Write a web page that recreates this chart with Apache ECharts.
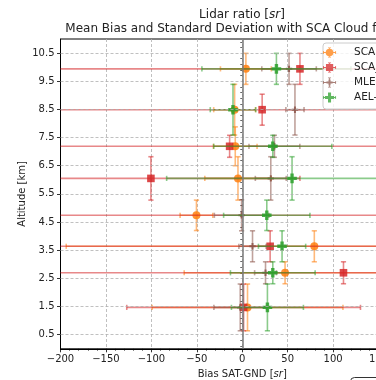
<!DOCTYPE html>
<html>
<head>
<meta charset="utf-8">
<script src="https://cdn.jsdelivr.net/npm/echarts@6/dist/echarts.min.js"></script>
<style>
  html, body { margin: 0; padding: 0; background: #ffffff; }
  #chart { width: 376px; height: 380px; }
</style>
</head>
<body>
<div id="chart"></div>
<script>
// Altitude bins [km] shared by all retrievals
const altitudeKm = [1.47, 2.70, 3.64, 4.74, 6.05, 7.19, 8.49, 9.94];

const seriesNames = ['SCA', 'SCA_MB', 'MLE', 'AEL-PRO'];

// Mean bias SAT-GND [sr], its standard deviation, and altitude spread [km]
const scaBias     = [5.8, 47.1, 79.3, -50.4, -4.7, -7.7, -8.4, 4.0];
const scaStd      = [105, 111, 273, 18, 36.5, 24, 23, 28];
const scaAltErr   = [0.83, 0.39, 0.55, 0.54, 0.77, 0.69, 0.9, 0.55];

const scaMbBias   = [1.5, 111.4, 30.7, 165, -100.5, -13.9, 21.9, 63.5];
const scaMbStd    = [128.6, 330, 250, 380, 164, 230, 245, 290];
const scaMbAltErr = [0.83, 0.39, 0.55, 0.55, 0.77, 0.39, 0.55, 0.55];

const mleBias     = [-2.2, 25.6, 11.3, -0.7, 31.4, 35.4, 58, 51.5];
const mleStd      = [29, 12, 15, 30, 17, 28, 10, 30];
const mleAltErr   = [0.83, 0.39, 0.55, 0.55, 0.77, 0.39, 0.9, 0.55];

const aelBias     = [27.7, 33.6, 43.8, 27, 54.8, 33.6, -10.2, 37.6];
const aelStd      = [39.6, 46.6, 26, 47.5, 138, 65, 25, 82];
const aelAltErr   = [0.83, 0.39, 0.55, 0.54, 0.77, 0.39, 0.9, 0.55];

// Axis ticks
const yMajorTicks = [0.5, 1.5, 2.5, 3.5, 4.5, 5.5, 6.5, 7.5, 8.5, 9.5, 10.5];

const colors = ['#ff7f0e', '#d62728', '#8c564b', '#2ca02c'];
const markerKinds = ['circle', 'square', 'smallPlus', 'plus'];

const yMinorTicks = [];
for (let k = 0; k < 55; k++) {
  const v = +(0.1 + 0.2 * k).toFixed(2);
  if (v > 11) break;
  if (!yMajorTicks.some(m => Math.abs(m - v) < 1e-6)) yMinorTicks.push(v);
}

function rows(bias, std, altErr) {
  return bias.map((b, i) => [b, altitudeKm[i], std[i], altErr[i]]);
}

const CAP = 2.6;

function markerElement(kind, cx, cy, color) {
  const style = { fill: color, opacity: 0.85 };
  if (kind === 'circle') {
    return { type: 'circle', shape: { cx: cx, cy: cy, r: 4 }, style: style };
  }
  if (kind === 'square') {
    return { type: 'rect', shape: { x: cx - 3.8, y: cy - 3.8, width: 7.6, height: 7.6 }, style: style };
  }
  const h = kind === 'plus' ? 4.8 : 3.2;   // half extent
  const t = kind === 'plus' ? 1.7 : 1.0;   // half arm thickness
  const pts = [
    [cx - t, cy - h], [cx + t, cy - h], [cx + t, cy - t], [cx + h, cy - t],
    [cx + h, cy + t], [cx + t, cy + t], [cx + t, cy + h], [cx - t, cy + h],
    [cx - t, cy + t], [cx - h, cy + t], [cx - h, cy - t], [cx - t, cy - t]
  ];
  return { type: 'polygon', shape: { points: pts }, style: style };
}

function makeRenderer(kind, color) {
  return function (params, api) {
    const cs = params.coordSys;
    const left = cs.x, right = cs.x + cs.width;
    const bias = api.value(0), alt = api.value(1), sx = api.value(2), sy = api.value(3);
    const c = api.coord([bias, alt]);
    const xl = api.coord([bias - sx, alt])[0];
    const xr = api.coord([bias + sx, alt])[0];
    const yt = api.coord([bias, alt + sy])[1];
    const yb = api.coord([bias, alt - sy])[1];
    const ls = { stroke: color, lineWidth: 1.6, opacity: 0.55 };
    const children = [];
    const hl = Math.max(xl, left), hr = Math.min(xr, right);
    if (hr > hl) {
      children.push({ type: 'line', shape: { x1: hl, y1: c[1], x2: hr, y2: c[1] }, style: ls });
    }
    [xl, xr].forEach(function (xx) {
      if (xx >= left && xx <= right) {
        children.push({ type: 'line', shape: { x1: xx, y1: c[1] - CAP, x2: xx, y2: c[1] + CAP }, style: ls });
      }
    });
    if (c[0] >= left && c[0] <= right) {
      children.push({ type: 'line', shape: { x1: c[0], y1: yt, x2: c[0], y2: yb }, style: ls });
      children.push({ type: 'line', shape: { x1: c[0] - CAP, y1: yt, x2: c[0] + CAP, y2: yt }, style: ls });
      children.push({ type: 'line', shape: { x1: c[0] - CAP, y1: yb, x2: c[0] + CAP, y2: yb }, style: ls });
      children.push(markerElement(kind, c[0], c[1], color));
    }
    return { type: 'group', children: children };
  };
}

// Legend glyphs: error-bar cross with the series marker in the middle
const crossPath =
  'M1 9.2H25V10.8H1Z M0.2 7H1.8V13H0.2Z M24.2 7H25.8V13H24.2Z ' +
  'M12.2 0.2H13.8V19.8H12.2Z M10 0.2H16V1.8H10Z M10 18.2H16V19.8H10Z ';
const legendIcons = [
  'path://' + crossPath + 'M13 2.5A7.5 7.5 0 1 1 13 17.5A7.5 7.5 0 1 1 13 2.5Z',
  'path://' + crossPath + 'M6 3H20V17H6Z',
  'path://' + crossPath + 'M11 4H15V8H19V12H15V16H11V12H7V8H11Z',
  'path://' + crossPath + 'M10 1H16V7H22V13H16V19H10V13H4V7H10Z'
];

const dataSets = [
  rows(scaBias, scaStd, scaAltErr),
  rows(scaMbBias, scaMbStd, scaMbAltErr),
  rows(mleBias, mleStd, mleAltErr),
  rows(aelBias, aelStd, aelAltErr)
];

const series = dataSets.map(function (d, i) {
  return {
    type: 'custom',
    name: seriesNames[i],
    data: d,
    encode: { x: 0, y: 1 },
    itemStyle: { color: colors[i] },
    renderItem: makeRenderer(markerKinds[i], colors[i]),
    z: 3
  };
});

// Dashed horizontal grid at the labelled altitudes
series.push({
  type: 'line',
  data: [],
  z: 1,
  silent: true,
  markLine: {
    silent: true,
    symbol: 'none',
    label: { show: false },
    lineStyle: { color: '#b0b0b0', width: 0.8, type: [3, 2] },
    data: yMajorTicks.map(v => ({ yAxis: v }))
  }
});

// Zero-bias reference line
series.push({
  type: 'line',
  data: [],
  z: 5,
  silent: true,
  markLine: {
    silent: true,
    symbol: 'none',
    label: { show: false },
    lineStyle: { color: '#7a7a7a', width: 1.5, type: 'solid' },
    data: [{ xAxis: 0 }]
  }
});

const textColor = '#222222';
const chart = echarts.init(document.getElementById('chart'), null, { renderer: 'canvas' });

chart.setOption({
  animation: false,
  backgroundColor: '#ffffff',
  textStyle: { fontFamily: 'DejaVu Sans' },
  grid: {
    left: 60.5, right: -48, top: 39, bottom: 31.2,
    outerBoundsMode: 'none',
    containLabel: false,
    show: true, borderColor: '#000000', borderWidth: 1, backgroundColor: 'transparent'
  },
  graphic: [
    {
      type: 'text', x: 242, y: 15, z: 10,
      style: {
        text: '{n|Lidar ratio [}{i|sr}{n|]}',
        align: 'center', verticalAlign: 'middle',
        rich: {
          n: { fontSize: 12, fontFamily: 'DejaVu Sans', fill: textColor },
          i: { fontSize: 12, fontFamily: 'DejaVu Sans', fontStyle: 'italic', fill: textColor }
        }
      }
    },
    {
      type: 'text', x: 242, y: 28.5, z: 10,
      style: {
        text: 'Mean Bias and Standard Deviation with SCA Cloud filtering',
        align: 'center', verticalAlign: 'middle',
        fontSize: 12, fontFamily: 'DejaVu Sans', fill: textColor
      }
    },
    {
      type: 'rect', z: 10,
      shape: { x: 350.5, y: 377.5, width: 120, height: 40, r: 4 },
      style: { fill: 'none', stroke: '#333333', lineWidth: 1 }
    }
  ],
  legend: {
    orient: 'vertical',
    left: 323, top: 43,
    padding: [4, 10, 6, 0],
    itemWidth: 25, itemHeight: 10, itemGap: 4,
    backgroundColor: 'rgba(255,255,255,0.8)',
    borderColor: '#cccccc', borderWidth: 1, borderRadius: 3,
    itemStyle: { opacity: 0.75 },
    textStyle: { fontSize: 10.5, color: textColor, fontFamily: 'DejaVu Sans', padding: [0, 0, 0, 7] },
    data: seriesNames.map((n, i) => ({ name: n, icon: legendIcons[i] })),
    z: 20
  },
  xAxis: {
    type: 'value', min: -200, max: 200, interval: 50,
    axisLine: { show: true, onZero: false, lineStyle: { color: '#000000', width: 1 } },
    axisTick: { show: true, length: 3.5, lineStyle: { color: '#000000', width: 0.8 } },
    minorTick: { show: true, splitNumber: 5, length: 2, lineStyle: { color: '#000000', width: 0.6 } },
    axisLabel: {
      fontSize: 10, color: textColor, margin: 6,
      formatter: v => (v < 0 ? '\u2212' + (-v) : String(v))
    },
    splitLine: { show: true, lineStyle: { color: '#b0b0b0', width: 0.8, type: [3, 2] } },
    name: '{n|Bias SAT-GND [}{i|sr}{n|]}',
    nameLocation: 'middle', nameGap: 21, nameMoveOverlap: false,
    nameTextStyle: {
      rich: {
        n: { fontSize: 10, color: textColor, fontFamily: 'DejaVu Sans' },
        i: { fontSize: 10, color: textColor, fontFamily: 'DejaVu Sans', fontStyle: 'italic' }
      }
    }
  },
  yAxis: [
    {
      type: 'value', min: 0, max: 11, interval: 0.5,
      axisLine: { show: true, onZero: false, lineStyle: { color: '#000000', width: 1 } },
      axisTick: { show: true, length: 3.5, customValues: yMajorTicks, lineStyle: { color: '#000000', width: 0.8 } },
      axisLabel: { fontSize: 10, color: textColor, margin: 6, customValues: yMajorTicks, formatter: v => v.toFixed(1) },
      splitLine: { show: false },
      name: 'Altitude [km]', nameLocation: 'middle', nameGap: 33, nameRotate: 90, nameMoveOverlap: false,
      nameTextStyle: { fontSize: 10, color: textColor, fontFamily: 'DejaVu Sans' }
    },
    {
      type: 'value', min: 0, max: 11, interval: 0.5, position: 'left',
      axisLine: { show: false },
      axisTick: { show: true, length: 2, customValues: yMinorTicks, lineStyle: { color: '#000000', width: 0.6 } },
      axisLabel: { show: false },
      splitLine: { show: false }
    }
  ],
  series: series
});
</script>
</body>
</html>
